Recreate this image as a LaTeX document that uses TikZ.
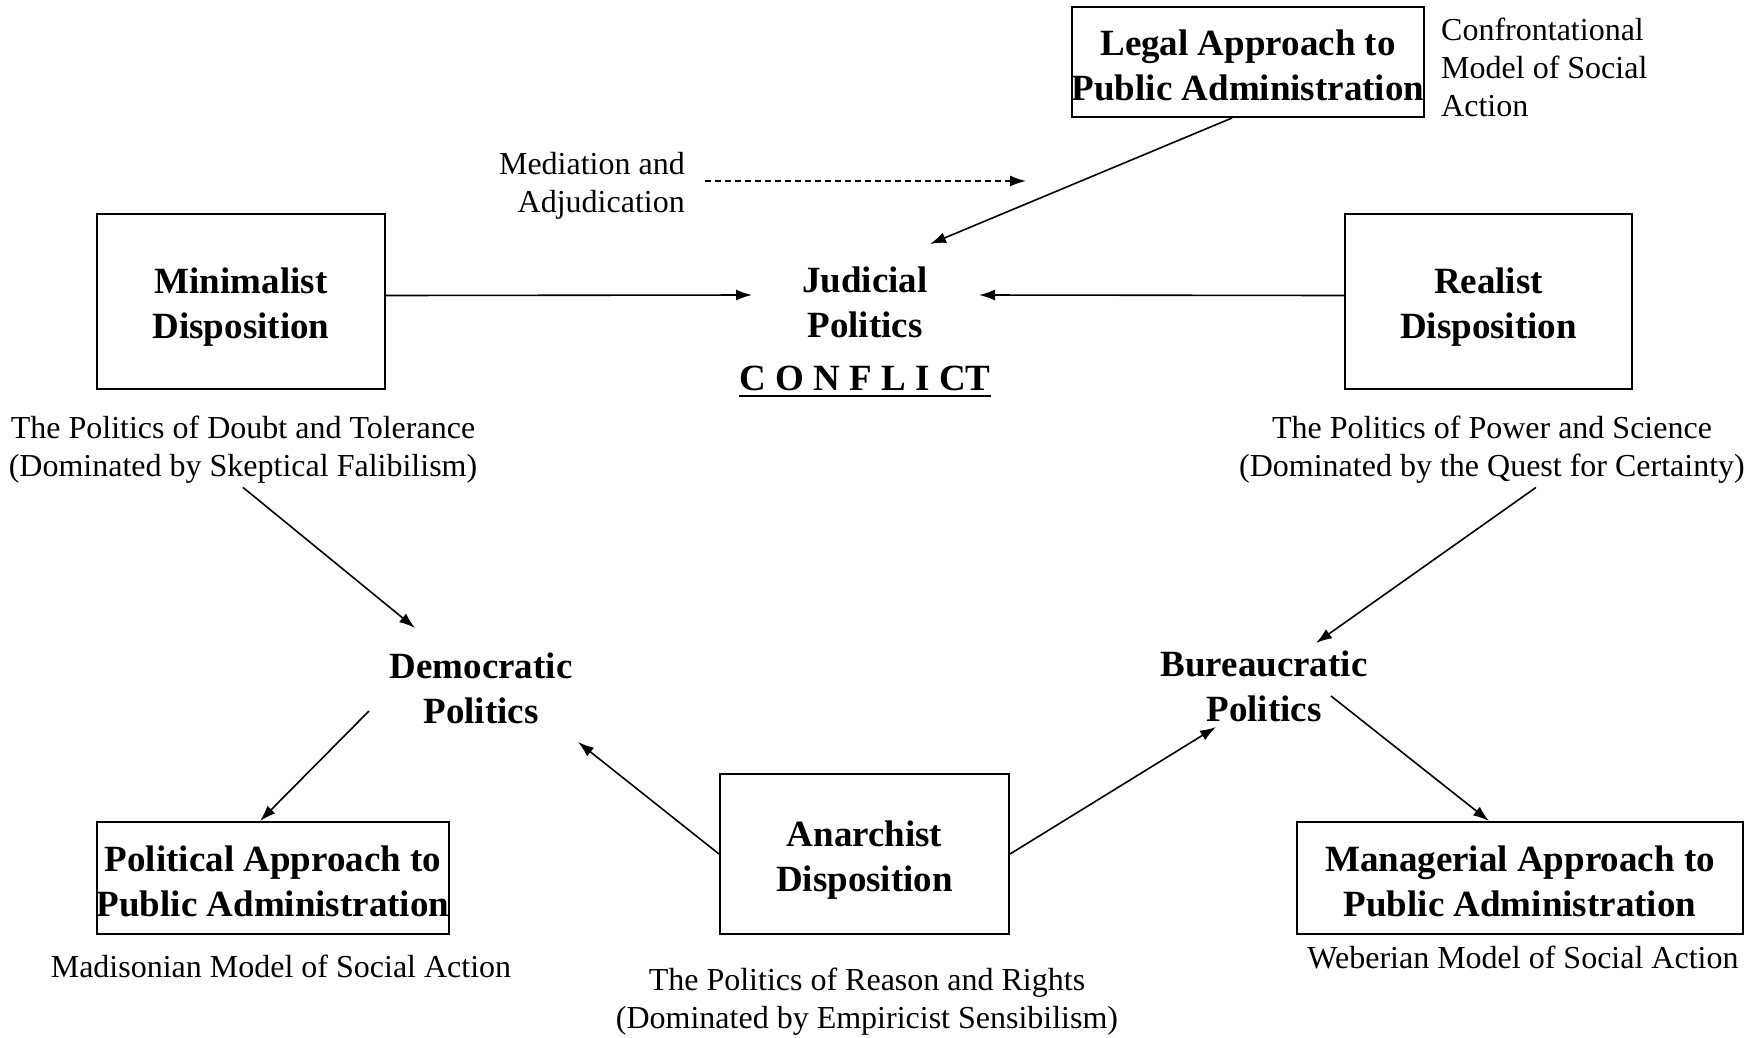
\documentclass[tikz,border=0pt]{standalone}
\usepackage{fontspec}
\setmainfont{Liberation Serif}
\usetikzlibrary{arrows.meta}
\begin{document}
\begin{tikzpicture}[x=1pt,y=-1pt,
  boxnode/.style={draw,line width=2pt,inner sep=0pt},
  boldtext/.style={align=center,inner sep=0pt,font=\fontsize{37}{45}\selectfont\bfseries},
  plaintext/.style={align=center,inner sep=0pt,font=\fontsize{32}{38}\selectfont},
  arr/.style={line width=1.6pt,-{Latex[length=16pt,width=11pt]}},
  darr/.style={arr,dash pattern=on 6pt off 4pt}]
\useasboundingbox (0,0) rectangle (1764,1037);
% boxes
\node[boxnode,minimum width=352,minimum height=110] (legal) at (1248,62) {};
\node[boldtext] (legalt) at ([yshift=-3pt]legal.center) {Legal Approach to\\Public Administration};
\node[boxnode,minimum width=288,minimum height=175] (mini) at (241,301.5) {};
\node[boldtext] (minit) at ([yshift=-6pt]mini.center) {Minimalist\\Disposition};
\node[boxnode,minimum width=287,minimum height=175] (real) at (1488.5,301.5) {};
\node[boldtext] (realt) at ([yshift=-6pt]real.center) {Realist\\Disposition};
\node[boxnode,minimum width=352,minimum height=112] (pol) at (273,878) {};
\node[boldtext] (polt) at ([yshift=-3pt]pol.center) {Political Approach to\\Public Administration};
\node[boxnode,minimum width=289,minimum height=160] (anar) at (864.5,854) {};
\node[boldtext] (anart) at ([yshift=-6pt]anar.center) {Anarchist\\Disposition};
\node[boxnode,minimum width=446,minimum height=112] (man) at (1520,878) {};
\node[boldtext] (mant) at ([yshift=-3pt]man.center) {Managerial Approach to\\Public Administration};
% texts
\node[plaintext,align=left,anchor=west] (conf) at (1441,67) {Confrontational\\Model of Social\\Action};
\node[plaintext,align=right,anchor=east] (med) at (685,186) {Mediation and\\Adjudication};
\node[boldtext] (jud) at (865,302.5) {Judicial\\Politics};
\node[boldtext] (cfl) at (865,378) {C O N F L I CT};
\draw[line width=2.5pt] ([yshift=-6pt]cfl.base west) -- ([yshift=-6pt]cfl.base east);
\node[plaintext] (doubt) at (243,449.5) {The Politics of Doubt and Tolerance\\(Dominated by Skeptical Falibilism)};
\node[plaintext] (power) at (1492,449.5) {The Politics of Power and Science\\(Dominated by the Quest for Certainty)};
\node[boldtext] (dem) at (481,688.5) {Democratic\\Politics};
\node[boldtext] (bur) at (1264,686.5) {Bureaucratic\\Politics};
\node[plaintext] (madi) at (281,966) {Madisonian Model of Social Action};
\node[plaintext] (weber) at (1523,957) {Weberian Model of Social Action};
\node[plaintext] (reason) at (867,1002) {The Politics of Reason and Rights\\(Dominated by Empiricist Sensibilism)};
% connector end points
\coordinate (medS) at (705,181);
\coordinate (medE) at (1026,181);
\coordinate (judL) at (752,295);
\coordinate (judR) at (979,295);
\coordinate (judT) at (930,244);
\coordinate (demT) at (415,628);
\coordinate (demB) at (369,711);
\coordinate (demR) at (578,742);
\coordinate (burT) at (1316,643);
\coordinate (burL) at (1216,727);
\coordinate (burB) at (1331,696);
% connectors
\draw[darr] (medS) -- (medE);
\draw[arr] ([xshift=-16pt]legal.south) -- (judT);
\draw[arr] ([yshift=6pt]mini.east) -- (judL);
\draw[arr] ([yshift=6pt]real.west) -- (judR);
\draw[arr] ([yshift=-4pt]doubt.south) -- (demT);
\draw[arr] ([xshift=44pt,yshift=-4pt]power.south) -- (burT);
\draw[arr] (demB) -- ([xshift=-13pt]pol.north);
\draw[arr] (anar.west) -- (demR);
\draw[arr] (anar.east) -- (burL);
\draw[arr] (burB) -- ([xshift=-31pt]man.north);
\end{tikzpicture}
\end{document}
